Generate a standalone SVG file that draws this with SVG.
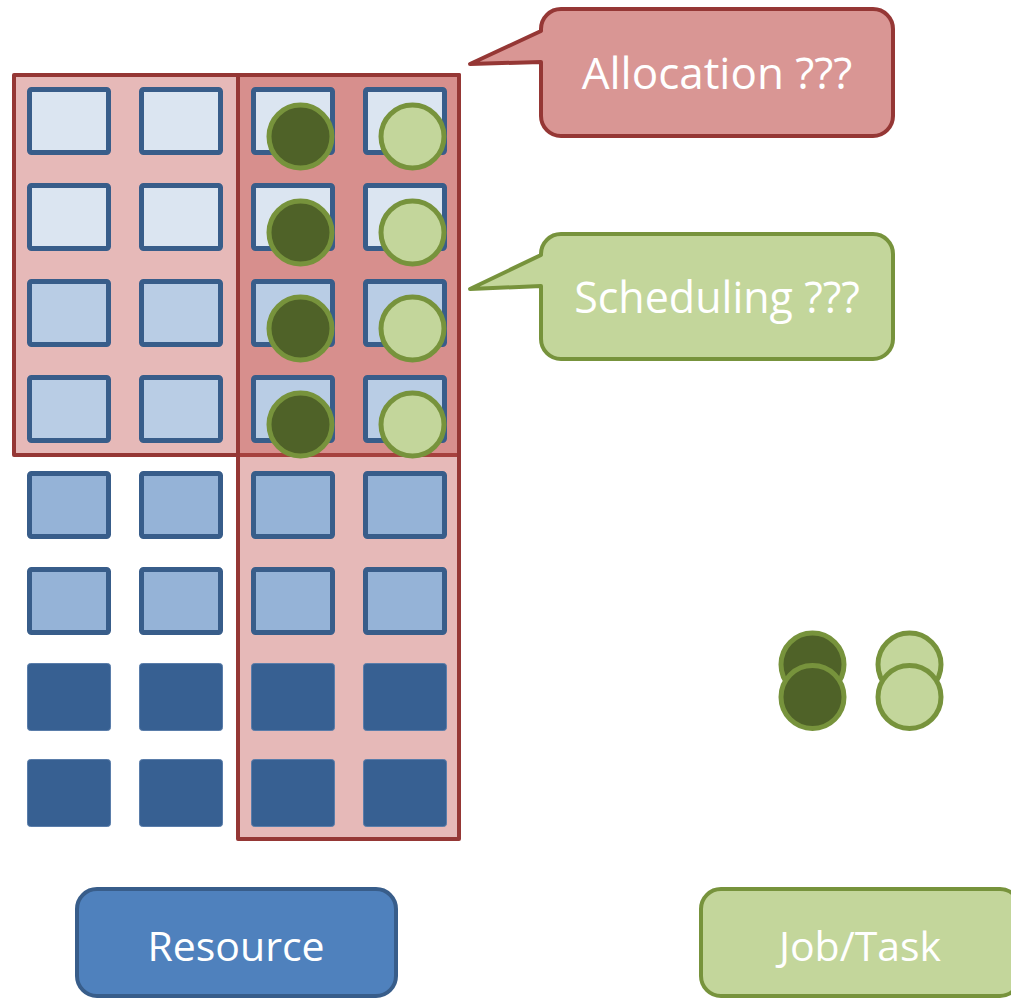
<svg xmlns="http://www.w3.org/2000/svg" width="1011" height="999" viewBox="0 0 1011 999">
<style>
.region{fill:#C0504D;fill-opacity:0.4;stroke:#953735;stroke-width:4;stroke-linejoin:round}
.sq{stroke:#385D8A;stroke-width:5}
.l1{fill:#DBE5F1}.l2{fill:#B9CDE5}.l3{fill:#95B3D7}
.l4{fill:#376092;stroke:#5A7DAA;stroke-width:1}
.job{stroke:#77933C;stroke-width:5}
.dk{fill:#4F6228}.lt{fill:#C3D69B}
.lbl{font-family:"Open Sans","Noto Sans",sans-serif;fill:#FFFFFF;text-anchor:middle}
</style>
<rect width="1011" height="999" fill="#FFFFFF"/>
<g id="regions">
<rect class="region" x="14" y="75" width="445" height="380"/>
<rect class="region" x="238" y="75" width="221" height="764"/>
</g>
<g id="resources">
<g id="row1">
<rect class="sq l1" x="29.5" y="89.5" width="79" height="63" rx="2"/>
<rect class="sq l1" x="141.5" y="89.5" width="79" height="63" rx="2"/>
<rect class="sq l1" x="253.5" y="89.5" width="79" height="63" rx="2"/>
<rect class="sq l1" x="365.5" y="89.5" width="79" height="63" rx="2"/>
</g>
<g id="row2">
<rect class="sq l1" x="29.5" y="185.5" width="79" height="63" rx="2"/>
<rect class="sq l1" x="141.5" y="185.5" width="79" height="63" rx="2"/>
<rect class="sq l1" x="253.5" y="185.5" width="79" height="63" rx="2"/>
<rect class="sq l1" x="365.5" y="185.5" width="79" height="63" rx="2"/>
</g>
<g id="row3">
<rect class="sq l2" x="29.5" y="281.5" width="79" height="63" rx="2"/>
<rect class="sq l2" x="141.5" y="281.5" width="79" height="63" rx="2"/>
<rect class="sq l2" x="253.5" y="281.5" width="79" height="63" rx="2"/>
<rect class="sq l2" x="365.5" y="281.5" width="79" height="63" rx="2"/>
</g>
<g id="row4">
<rect class="sq l2" x="29.5" y="377.5" width="79" height="63" rx="2"/>
<rect class="sq l2" x="141.5" y="377.5" width="79" height="63" rx="2"/>
<rect class="sq l2" x="253.5" y="377.5" width="79" height="63" rx="2"/>
<rect class="sq l2" x="365.5" y="377.5" width="79" height="63" rx="2"/>
</g>
<g id="row5">
<rect class="sq l3" x="29.5" y="473.5" width="79" height="63" rx="2"/>
<rect class="sq l3" x="141.5" y="473.5" width="79" height="63" rx="2"/>
<rect class="sq l3" x="253.5" y="473.5" width="79" height="63" rx="2"/>
<rect class="sq l3" x="365.5" y="473.5" width="79" height="63" rx="2"/>
</g>
<g id="row6">
<rect class="sq l3" x="29.5" y="569.5" width="79" height="63" rx="2"/>
<rect class="sq l3" x="141.5" y="569.5" width="79" height="63" rx="2"/>
<rect class="sq l3" x="253.5" y="569.5" width="79" height="63" rx="2"/>
<rect class="sq l3" x="365.5" y="569.5" width="79" height="63" rx="2"/>
</g>
<g id="row7">
<rect class="l4" x="27.5" y="663.5" width="83" height="67" rx="3"/>
<rect class="l4" x="139.5" y="663.5" width="83" height="67" rx="3"/>
<rect class="l4" x="251.5" y="663.5" width="83" height="67" rx="3"/>
<rect class="l4" x="363.5" y="663.5" width="83" height="67" rx="3"/>
</g>
<g id="row8">
<rect class="l4" x="27.5" y="759.5" width="83" height="67" rx="3"/>
<rect class="l4" x="139.5" y="759.5" width="83" height="67" rx="3"/>
<rect class="l4" x="251.5" y="759.5" width="83" height="67" rx="3"/>
<rect class="l4" x="363.5" y="759.5" width="83" height="67" rx="3"/>
</g>
</g>
<g id="scheduled-jobs">
<circle class="job dk" cx="300.5" cy="136.5" r="31.5"/>
<circle class="job lt" cx="412.5" cy="136.5" r="31.5"/>
<circle class="job dk" cx="300.5" cy="232.5" r="31.5"/>
<circle class="job lt" cx="412.5" cy="232.5" r="31.5"/>
<circle class="job dk" cx="300.5" cy="328.5" r="31.5"/>
<circle class="job lt" cx="412.5" cy="328.5" r="31.5"/>
<circle class="job dk" cx="300.5" cy="424.5" r="31.5"/>
<circle class="job lt" cx="412.5" cy="424.5" r="31.5"/>
</g>
<g id="job-queue">
<circle class="job dk" cx="812.5" cy="664.5" r="31.5"/>
<circle class="job dk" cx="812.5" cy="697" r="31.5"/>
<circle class="job lt" cx="909.5" cy="664.5" r="31.5"/>
<circle class="job lt" cx="909.5" cy="697" r="31.5"/>
</g>
<g id="allocation">
<path d="M561,9 H873 A20,20 0 0 1 893,29 V116 A20,20 0 0 1 873,136 H561 A20,20 0 0 1 541,116 V62 L470,64 L541,31 V29 A20,20 0 0 1 561,9 Z" fill="#D99694" stroke="#953735" stroke-width="4" stroke-linejoin="round"/>
<text class="lbl" x="717" y="89" font-size="44">Allocation ???</text>
</g>
<g id="scheduling">
<path d="M561,234 H873 A20,20 0 0 1 893,254 V339 A20,20 0 0 1 873,359 H561 A20,20 0 0 1 541,339 V286 L470,289 L541,255 V254 A20,20 0 0 1 561,234 Z" fill="#C3D69B" stroke="#77933C" stroke-width="4" stroke-linejoin="round"/>
<text class="lbl" x="717" y="313" font-size="43">Scheduling ???</text>
</g>
<g id="resource-legend">
<rect x="77" y="889" width="319" height="107" rx="20" fill="#4F81BD" stroke="#385D8A" stroke-width="4"/>
<text class="lbl" x="236" y="961" font-size="41">Resource</text>
</g>
<g id="job-legend">
<rect x="701" y="889" width="319" height="107" rx="20" fill="#C3D69B" stroke="#77933C" stroke-width="4"/>
<text class="lbl" x="860" y="961" font-size="41">Job/Task</text>
</g>
<g id="connectors"></g>
</svg>
